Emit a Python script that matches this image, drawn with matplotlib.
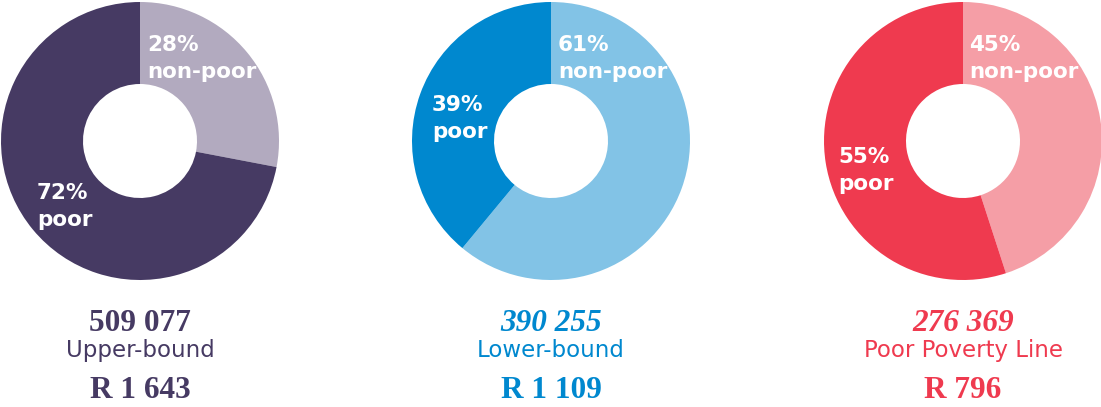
import matplotlib.pyplot as plt

W, H = 1101, 407

lines = ["Upper-bound", "Lower-bound", "Poor Poverty Line"]
non_poor = [28, 61, 45]
poor = [72, 39, 55]
counts = ["509 077", "390 255", "276 369"]
thresholds = ["R 1 643", "R 1 109", "R 796"]

dark = ["#463a63", "#0088cf", "#ef3a4f"]
light = ["#b2aabf", "#82c3e6", "#f59ea6"]

# donut centres (px) and where the two labels sit (px offsets from centre: x, baseline of first line)
centres_x = [140, 551, 963]
centre_y = 141
radius = 139
np_lab = [(7, 51), (7, 51), (6, 51)]
p_lab = [(-103, 199), (-119, 111), (-125, 163)]

fig = plt.figure(figsize=(W / 100, H / 100), dpi=100)
lab_font = dict(family="DejaVu Sans", weight="bold", fontsize=15.5, color="white")

for i in range(3):
    cx = centres_x[i]
    ax = fig.add_axes([(cx - radius) / W, (H - centre_y - radius) / H,
                       2 * radius / W, 2 * radius / H])
    ax.pie([non_poor[i], poor[i]], colors=[light[i], dark[i]], startangle=90,
           counterclock=False, radius=1,
           wedgeprops=dict(width=1 - 57 / radius, linewidth=0))
    ax.set_xlim(-1, 1)
    ax.set_ylim(-1, 1)
    ax.set_aspect("equal")
    ax.axis("off")

    for (dx, by), pct, word in [(np_lab[i], non_poor[i], "non-poor"),
                                (p_lab[i], poor[i], "poor")]:
        x = (cx + dx) / W
        fig.text(x, 1 - by / H, f"{pct}%", ha="left", va="baseline", **lab_font)
        fig.text(x, 1 - (by + 27) / H, word, ha="left", va="baseline", **lab_font)

    fig.text(cx / W, 1 - 331 / H, counts[i], ha="center", va="baseline",
             family="Liberation Serif", weight="bold", fontsize=22.5,
             style="italic" if i else "normal", color=dark[i])
    fig.text(cx / W, 1 - 357 / H, lines[i], ha="center", va="baseline",
             family="DejaVu Sans", fontsize=16.5, color=dark[i])
    fig.text(cx / W, 1 - 398 / H, thresholds[i], ha="center", va="baseline",
             family="Liberation Serif", weight="bold", fontsize=22.5, color=dark[i])

fig.savefig("out.png", dpi=100)
